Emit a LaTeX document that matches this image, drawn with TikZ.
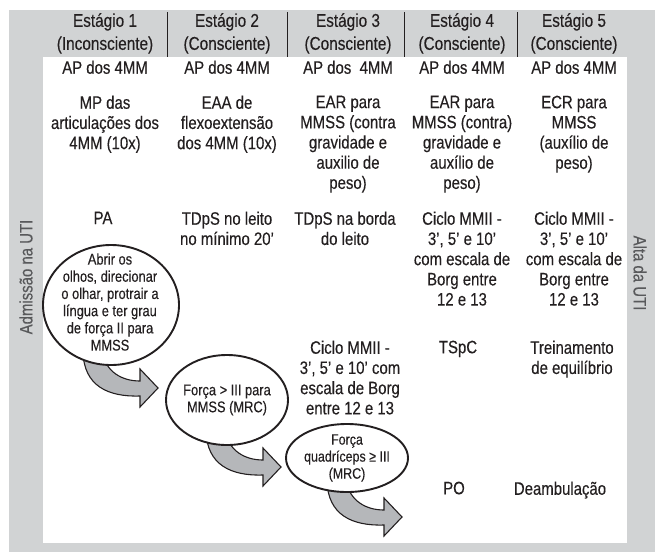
\documentclass[tikz,border=0pt]{standalone}
\usepackage{fontspec}
\usetikzlibrary{shapes.geometric}
\setmainfont[FakeStretch=0.83,FakeBold=0.25]{Liberation Sans}
\definecolor{bggray}{HTML}{D1D3D4}
\definecolor{arrgray}{HTML}{B5B7BA}
\definecolor{ink}{HTML}{231F20}
\definecolor{sideink}{HTML}{58595B}
\begin{document}
\begin{tikzpicture}[x=1pt,y=-1pt,
  hdr/.style={font=\fontsize{18.5}{23}\selectfont, align=center, inner sep=0pt, text=ink, anchor=north},
  txt/.style={font=\fontsize{18}{20.2}\selectfont, align=center, inner sep=0pt, text=ink, anchor=north},
  side/.style={font=\fontsize{18}{20}\selectfont, inner sep=0pt, text=sideink},
  ctxt/.style={align=center, inner sep=0pt, text=ink},
  bubble/.style={ellipse, draw=ink, line width=1.9pt, fill=white, inner sep=0pt},
  blockarrow/.style={draw=ink, line width=1.1pt, fill=arrgray, line join=miter},
  divider/.style={draw=ink, line width=0.9pt}]
\useasboundingbox (0,0) rectangle (655,552);
\fill[bggray] (9,10) rectangle (655,552);
\fill[white] (43,57) rectangle (627,543);

% header
\node[hdr] (h1) at (105,13) {Estágio 1\\(Inconsciente)};
\node[hdr] (h2) at (227,13) {Estágio 2\\(Consciente)};
\node[hdr] (h3) at (348,13) {Estágio 3\\(Consciente)};
\node[hdr] (h4) at (462,13) {Estágio 4\\(Consciente)};
\node[hdr] (h5) at (574,13) {Estágio 5\\(Consciente)};
\coordinate (d1t) at (167,12); \coordinate (d1b) at (167,57);
\coordinate (d2t) at (287,12); \coordinate (d2b) at (287,57);
\coordinate (d3t) at (404,12); \coordinate (d3b) at (404,57);
\coordinate (d4t) at (517,12); \coordinate (d4b) at (517,57);
\draw[divider] (d1t) -- (d1b);
\draw[divider] (d2t) -- (d2b);
\draw[divider] (d3t) -- (d3b);
\draw[divider] (d4t) -- (d4b);

% side labels
\node[side, rotate=90] (adm) at (26,277) {Admissão na UTI};
\node[side, rotate=-90] (alta) at (640,273) {Alta da UTI};

% row 1
\node[txt] (a1) at (105,60.5) {AP dos 4MM};
\node[txt] (a2) at (227,60.5) {AP dos 4MM};
\node[txt] (a3) at (348,60.5) {AP dos\ \ 4MM};
\node[txt] (a4) at (462,60.5) {AP dos 4MM};
\node[txt] (a5) at (574,60.5) {AP dos 4MM};

% row 2
\node[txt] (b1) at (105,95.5) {MP das\\articulações dos\\4MM (10x)};
\node[txt] (b2) at (227,95.5) {EAA de\\flexoextensão\\dos 4MM (10x)};
\node[txt] (b3) at (348,95.5) {EAR para\\MMSS (contra\\gravidade e\\auxilio de\\peso)};
\node[txt] (b4) at (462,95.5) {EAR para\\MMSS (contra)\\gravidade e\\auxílio de\\peso)};
\node[txt] (b5) at (574,95.5) {ECR para\\MMSS\\(auxílio de\\peso)};

% row 3
\node[txt] (c1) at (103,211.5) {PA};
\node[txt] (c2) at (227,211.5) {TDpS no leito\\no mínimo 20’};
\node[txt] (c3) at (345,211.5) {TDpS na borda\\do leito};
\node[txt] (c4) at (462,211.5) {Ciclo MMII -\\3’, 5’ e 10’\\com escala de\\Borg entre\\12 e 13};
\node[txt] (c5) at (574,211.5) {Ciclo MMII -\\3’, 5’ e 10’\\com escala de\\Borg entre\\12 e 13};

% row 4
\node[txt] (e3) at (350,340.5) {Ciclo MMII -\\3’, 5’ e 10’ com\\escala de Borg\\entre 12 e 13};
\node[txt] (e4) at (458,340.5) {TSpC};
\node[txt] (e5) at (572,340.5) {Treinamento\\de equilíbrio};

% row 5
\node[txt] (f4) at (454,481.5) {PO};
\node[txt] (f5) at (560,481.5) {Deambulação};

% block arrows (drawn before bubbles so their tails tuck under)
\newcommand\swoosh[1]{%
  \draw[blockarrow, shift={#1}] (102,352) .. controls (106,372) and (122,381) .. (140,381)
    -- (140,369) -- (158,388) -- (140,407) -- (140,396)
    .. controls (108,397) and (84,386) .. (83,352) -- cycle;}
\swoosh{(0,0)}
\swoosh{(123,79)}
\swoosh{(244,129)}

% bubbles
\node[bubble, minimum width=136pt, minimum height=120pt] (k1) at (111,305) {};
\node[ctxt, font=\fontsize{15.5}{17.2}\selectfont] (k1t) at (110,302) {Abrir os\\olhos, direcionar\\o olhar, protrair a\\língua e ter grau\\de força II para\\MMSS};
\node[bubble, minimum width=122pt, minimum height=90pt] (k2) at (227,400) {};
\node[ctxt, font=\fontsize{15.5}{17}\selectfont] (k2t) at (k2.center) {Força > III para\\MMSS (MRC)};
\node[bubble, minimum width=122pt, minimum height=68pt] (k3) at (347,458) {};
\node[ctxt, font=\fontsize{15}{17}\selectfont] (k3t) at (k3.center) {Força\\quadríceps ≥ III\\(MRC)};
\end{tikzpicture}
\end{document}
